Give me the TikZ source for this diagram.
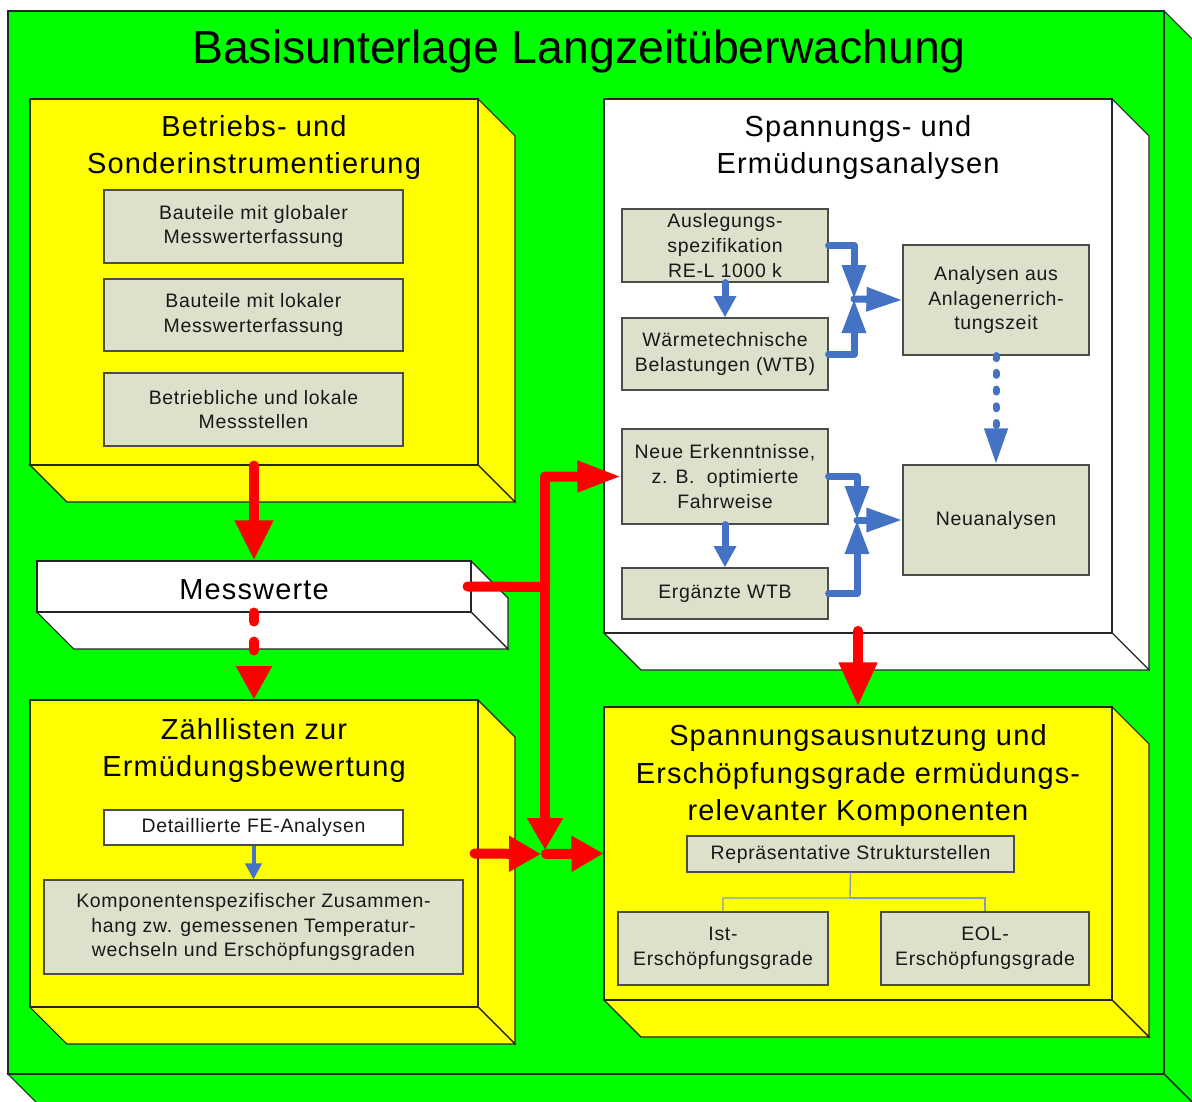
\documentclass[tikz,border=0pt]{standalone}
\usepackage{fontspec}
\setmainfont{Liberation Sans}
\newfontfamily\titlefam[LetterSpace=4]{Liberation Sans}
\newfontfamily\innerfam[LetterSpace=3.5]{Liberation Sans}
\usetikzlibrary{arrows.meta}
\definecolor{bggreen}{HTML}{00FF00}
\definecolor{byellow}{HTML}{FFFF00}
\definecolor{gfill}{HTML}{DDE0CA}
\definecolor{cblue}{HTML}{4472C4}
\definecolor{cred}{HTML}{FF0000}
\definecolor{treeline}{HTML}{7F9DB9}
\newcommand\titlefont{\titlefam\fontsize{21.75}{26}\selectfont}
\newcommand\innerfont{\innerfam\fontsize{14.6}{18.6}\selectfont}
% style, name, x1, y1, x2, y2, text
\newcommand\rbox[7]{%
  \pgfmathsetmacro\rbw{(#5-#3)*0.75}%
  \pgfmathsetmacro\rbh{(#6-#4)*0.75}%
  \node[#1, minimum width=\rbw pt, minimum height=\rbh pt, inner sep=0pt] (#2) at ({(#3+#5)/2},{(#4+#6)/2}) {#7};}
% name, x1, y1, x2, y2, fill
\newcommand\tbox[6]{%
  \filldraw[fill=#6, face] (#4,#3) -- ({#4+37},{#3+37}) -- ({#4+37},{#5+37}) -- (#4,#5) -- cycle;
  \filldraw[fill=#6, face] (#2,#5) -- (#4,#5) -- ({#4+37},{#5+37}) -- ({#2+37},{#5+37}) -- cycle;
  \rbox{face, fill=#6}{#1}{#2}{#3}{#4}{#5}{}}
\begin{document}
\begin{tikzpicture}[x=0.75pt,y=-0.75pt,
  face/.style={draw=black!85, line width=0.8pt},
  gbox/.style={draw=black!70, line width=0.9pt, fill=gfill, align=center, text=black!90, font=\innerfont},
  ttl/.style={anchor=base, inner sep=0pt, font=\titlefont},
  redln/.style={draw=cred, line width=7.5pt, line cap=round, line join=round},
  redtip/.style={-{Triangle[width=25.5pt,length=24pt]}},
  blueln/.style={draw=cblue, line width=5.25pt, line cap=round, line join=round},
  bluetip/.style={-{Triangle[width=17pt,length=25.5pt]}},
  treeln/.style={draw=treeline, line width=1pt}]
\useasboundingbox (0,0) rectangle (1192,1102);
\fill[white] (0,0) rectangle (1192,1102);
\clip (0,0) rectangle (1192,1102);

% 3D boxes
\tbox{outer}{8}{11}{1164}{1074}{bggreen}
\tbox{bA}{30}{99}{478}{465}{byellow}
\tbox{mw}{37}{561}{471}{612}{white}
\tbox{zl}{30}{700}{478}{1007}{byellow}
\tbox{sp}{604}{99}{1112}{633}{white}
\tbox{sa}{604}{707}{1112}{1000}{byellow}

% titles
\node[anchor=base, inner sep=0pt, font=\fontsize{34.8}{40}\selectfont] (title) at (579,64) {Basisunterlage Langzeitüberwachung};
\node[ttl] (tA1) at (254,137) {Betriebs- und};
\node[ttl] (tA2) at (254,174) {Sonderinstrumentierung};
\node[ttl] (tS1) at (858,137) {Spannungs- und};
\node[ttl] (tS2) at (858,174) {Ermüdungsanalysen};
\node[ttl] (tZ1) at (254,739) {Zähllisten zur};
\node[ttl] (tZ2) at (254,776) {Ermüdungsbewertung};
\node[ttl] (tU1) at (858,745) {Spannungsausnutzung und};
\node[ttl] (tU2) at (858,783) {Erschöpfungsgrade ermüdungs-};
\node[ttl] (tU3) at (858,820) {relevanter Komponenten};
\node[ttl] (tM) at (254,599) {Messwerte};

% inner boxes
\rbox{gbox}{g1}{104}{190}{403}{263}{Bauteile mit globaler\\Messwerterfassung}
\rbox{gbox}{g2}{104}{279}{403}{351}{Bauteile mit lokaler\\Messwerterfassung}
\rbox{gbox}{g3}{104}{373}{403}{446}{Betriebliche und lokale\\Messstellen}
\rbox{gbox, fill=white}{fe}{104}{810}{403}{845}{Detaillierte FE-Analysen}
\rbox{gbox}{komp}{44}{880}{463}{974}{Komponentenspezifischer Zusammen-\\hang zw. gemessenen Temperatur-\\wechseln und Erschöpfungsgraden}
\rbox{gbox}{ausl}{622}{209}{828}{282}{Auslegungs-\\spezifikation\\RE-L 1000 k}
\rbox{gbox}{wtb}{622}{318}{828}{390}{Wärmetechnische\\Belastungen (WTB)}
\rbox{gbox}{anal}{903}{245}{1089}{355}{Analysen aus\\Anlagenerrich-\\tungszeit}
\rbox{gbox}{neue}{622}{429}{828}{524}{Neue Erkenntnisse,\\z. B.\ \ optimierte\\Fahrweise}
\rbox{gbox}{erg}{622}{568}{828}{619}{Ergänzte WTB}
\rbox{gbox}{neu}{903}{465}{1089}{575}{Neuanalysen}
\rbox{gbox}{rep}{687}{836}{1014}{872}{Repräsentative Strukturstellen}
\rbox{gbox}{ist}{618}{912}{828}{985}{Ist-\\Erschöpfungsgrade}
\rbox{gbox}{eol}{881}{912}{1089}{985}{EOL-\\Erschöpfungsgrade}

% tree
\coordinate (tj) at (850,898);
\draw[treeln] (rep.south) -- (tj) -| (ist.north);
\draw[treeln] (tj) -| (eol.north);

% blue connectors
\coordinate (m1) at (854,299);
\coordinate (m2) at (857,520);
\draw[blueln, -{Triangle[width=16pt,length=16pt]}] (ausl.south) -- (wtb.north);
\draw[blueln, bluetip] (ausl.east) -| (m1);
\draw[blueln, bluetip] (wtb.east) -| (m1);
\draw[blueln, -{Triangle[width=17pt,length=27pt]}] (m1) -- (anal.west);
\draw[blueln, dash pattern=on 2.25pt off 10.3pt, -{Triangle[width=16.5pt,length=27pt]}] (anal.south) -- (neu.north);
\draw[blueln, -{Triangle[width=16pt,length=16pt]}] (neue.south) -- (erg.north);
\draw[blueln, bluetip] (neue.east) -| (m2);
\draw[blueln, bluetip] (erg.east) -| (m2);
\draw[blueln, -{Triangle[width=17pt,length=27pt]}] (m2) -- (neu.west);
\draw[draw=cblue, line width=3pt, -{Triangle[width=12pt,length=12pt]}] (fe.south) -- (komp.north);

% red connectors
\coordinate (rj) at (545,587);
\coordinate (rd) at (545,850);
\coordinate (rl) at (541,854);
\coordinate (rr) at (546,854);
\draw[redln, -{Triangle[width=27pt,length=30pt]}] (bA.south) -- (mw.north);
\draw[redln, dash pattern=on 6.75pt off 15pt, -{Triangle[width=25.5pt,length=25pt]}] (mw.south) -- (zl.north);
\draw[redln, -{Triangle[width=21.75pt,length=33pt]}] ([xshift=-3pt]mw.east) -- (rj) |- (neue.west);
\draw[redln, redtip] (rj) -- (rd);
\draw[redln, redtip] ([xshift=-3pt]zl.east) -- (rl);
\draw[redln, redtip] (rr) -- (sa.west);
\draw[redln, -{Triangle[width=27pt,length=33pt]}] ([yshift=2pt]sp.south) -- (sa.north);
\end{tikzpicture}
\end{document}
